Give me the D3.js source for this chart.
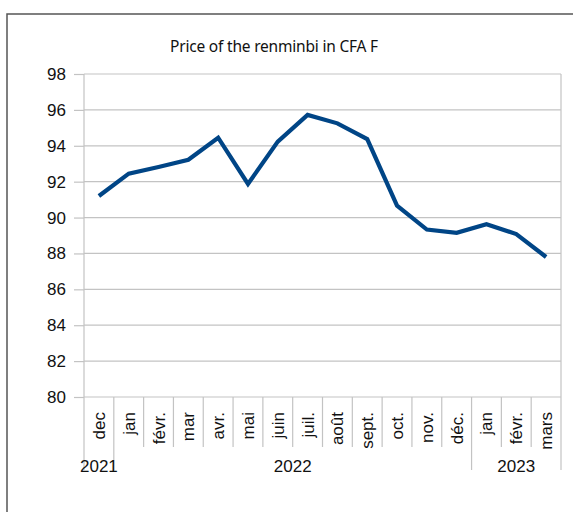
<!DOCTYPE html>
<html>
<head>
<meta charset="utf-8">
<script src="https://cdnjs.cloudflare.com/ajax/libs/d3/7.8.5/d3.min.js"></script>
<style>
  body { margin: 0; background: #fff; }
  svg { display: block; }
</style>
</head>
<body>
<div id="svg-area"></div>
<script>
// chart data
var months = ["dec", "jan", "févr.", "mar", "avr.", "mai", "juin", "juil.", "août",
  "sept.", "oct.", "nov.", "déc.", "jan", "févr.", "mars"];
var monthYears = [2021, 2022, 2022, 2022, 2022, 2022, 2022, 2022, 2022,
  2022, 2022, 2022, 2022, 2023, 2023, 2023];
var prices = [91.2, 92.45, 92.82, 93.22, 94.45, 91.87, 94.23, 95.72, 95.25,
  94.37, 90.66, 89.33, 89.15, 89.63, 89.08, 87.8];
var yTicks = [80, 82, 84, 86, 88, 90, 92, 94, 96, 98];
var title = "Price of the renminbi in CFA F";

// svg container
var svgWidth = 573;
var svgHeight = 512;

// plot area
var margin = { top: 74, right: 12, bottom: 115, left: 84 };
var chartWidth = svgWidth - margin.left - margin.right;
var chartHeight = svgHeight - margin.top - margin.bottom;

var svg = d3.select("#svg-area").append("svg")
  .attr("width", svgWidth)
  .attr("height", svgHeight);

// outer frame (runs off the right and bottom)
svg.append("rect")
  .attr("x", 7)
  .attr("y", 14)
  .attr("width", 700)
  .attr("height", 700)
  .attr("fill", "none")
  .attr("stroke", "#555")
  .attr("stroke-width", 1.5);

svg.append("text")
  .attr("x", 274)
  .attr("y", 52)
  .attr("text-anchor", "middle")
  .attr("font-family", "'Noto Sans', sans-serif")
  .attr("font-size", "15.5px")
  .attr("letter-spacing", "-0.2px")
  .attr("fill", "#111")
  .text(title);

var chartGroup = svg.append("g")
  .attr("transform", `translate(${margin.left}, ${margin.top})`);

// scales
// ==============================
var xScale = d3.scaleBand()
  .domain(d3.range(months.length))
  .range([0, chartWidth])
  .padding(0);

var yScale = d3.scaleLinear()
  .domain([80, 98])
  .range([chartHeight, 0]);

// gridlines
chartGroup.append("g")
  .selectAll("line")
  .data(yTicks)
  .enter()
  .append("line")
  .attr("x1", 0)
  .attr("x2", chartWidth)
  .attr("y1", d => yScale(d))
  .attr("y2", d => yScale(d))
  .attr("stroke", "#c3c3c3")
  .attr("stroke-width", 1.2);

// left axis
var leftAxis = d3.axisLeft(yScale)
  .tickValues(yTicks)
  .tickSize(10)
  .tickPadding(8);

var yAxisG = chartGroup.append("g").call(leftAxis);
yAxisG.select(".domain").attr("stroke", "#c3c3c3").attr("stroke-width", 1.2)
  .attr("d", `M0,0V${chartHeight}`);
yAxisG.selectAll(".tick line").attr("stroke", "#c3c3c3").attr("stroke-width", 1.2);
yAxisG.selectAll(".tick text")
  .attr("font-family", "'Liberation Sans', Arial, sans-serif")
  .attr("font-size", "17px")
  .attr("fill", "#111");

// right border of the plot
chartGroup.append("line")
  .attr("x1", chartWidth).attr("x2", chartWidth)
  .attr("y1", 0).attr("y2", chartHeight + 73)
  .attr("stroke", "#c3c3c3")
  .attr("stroke-width", 1.2);

// category separators: long at year changes, short otherwise
var bounds = d3.range(months.length);
chartGroup.append("g")
  .selectAll("line")
  .data(bounds)
  .enter()
  .append("line")
  .attr("x1", i => xScale(i))
  .attr("x2", i => xScale(i))
  .attr("y1", chartHeight)
  .attr("y2", i => (i === 0 || monthYears[i] !== monthYears[i - 1]) ? chartHeight + 73 : chartHeight + 50)
  .attr("stroke", "#c3c3c3")
  .attr("stroke-width", 1.2);

// month labels, rotated
chartGroup.append("g")
  .selectAll("text")
  .data(months)
  .enter()
  .append("text")
  .attr("transform", (d, i) => `translate(${xScale(i) + xScale.bandwidth() / 2 + 6}, ${chartHeight + 15}) rotate(-90)`)
  .attr("text-anchor", "end")
  .attr("font-family", "'Liberation Sans', Arial, sans-serif")
  .attr("font-size", "17px")
  .attr("fill", "#111")
  .text(d => d);

// year labels centred on their months
var years = Array.from(new Set(monthYears));
chartGroup.append("g")
  .selectAll("text")
  .data(years)
  .enter()
  .append("text")
  .attr("x", y => {
    var first = monthYears.indexOf(y);
    var last = monthYears.lastIndexOf(y);
    return (xScale(first) + xScale(last) + xScale.bandwidth()) / 2;
  })
  .attr("y", chartHeight + 75)
  .attr("text-anchor", "middle")
  .attr("font-family", "'Liberation Sans', Arial, sans-serif")
  .attr("font-size", "17px")
  .attr("fill", "#111")
  .text(y => y);

// price line
var line = d3.line()
  .x((d, i) => xScale(i) + xScale.bandwidth() / 2)
  .y(d => yScale(d));

chartGroup.append("path")
  .datum(prices)
  .attr("d", line)
  .attr("fill", "none")
  .attr("stroke", "#004586")
  .attr("stroke-width", 4.2)
  .attr("stroke-linejoin", "miter");
</script>
</body>
</html>
